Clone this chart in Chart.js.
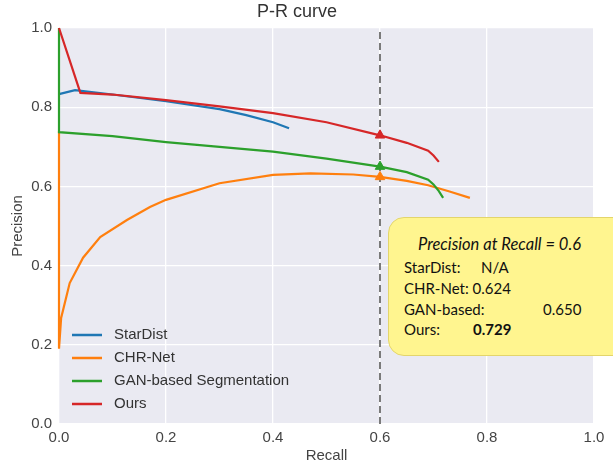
<!DOCTYPE html>
<html>
<head>
<meta charset="utf-8">
<script src="https://cdn.jsdelivr.net/npm/chart.js@4.4.0/dist/chart.umd.min.js"></script>
<style>
  html, body { margin: 0; padding: 0; background: #fff; overflow: hidden; }
  #wrap { position: relative; width: 613px; height: 465px; }
  #note {
    position: absolute; left: 388px; top: 217px; width: 250px; height: 139px;
    background: #fff58f; border: 1.5px solid #e3d56c; border-radius: 16px;
    box-sizing: border-box; font-family: Lato, "Noto Sans", sans-serif;
    font-size: 15px; color: #111;
  }
  #note span { position: absolute; white-space: nowrap; line-height: 18px; }
</style>
</head>
<body>
<div id="wrap">
  <canvas id="chart" width="613" height="465"></canvas>
  <div id="note">
    <span style="left:29px; top:17px; font-style:italic; font-size:16.5px;">Precision at Recall = 0.6</span>
    <span style="left:15px; top:40px;">StarDist:</span>
    <span style="left:92px; top:40px;">N/A</span>
    <span style="left:15px; top:61px;">CHR-Net: 0.624</span>
    <span style="left:15px; top:82px;">GAN-based:</span>
    <span style="left:154px; top:82px;">0.650</span>
    <span style="left:15px; top:102px;">Ours:</span>
    <span style="left:84px; top:102px; font-weight:bold;">0.729</span>
  </div>
</div>
<script>
const recallStarDist = [0, 0.03, 0.1, 0.2, 0.3, 0.35, 0.4, 0.43];
const precisionStarDist = [0.833, 0.843, 0.832, 0.815, 0.795, 0.78, 0.762, 0.747];

const recallChrNet = [0, 0, 0.004, 0.02, 0.045, 0.077, 0.127, 0.17, 0.2, 0.3, 0.4, 0.47, 0.55, 0.6, 0.65, 0.69, 0.73, 0.768];
const precisionChrNet = [0.74, 0.19, 0.268, 0.356, 0.42, 0.472, 0.515, 0.548, 0.566, 0.608, 0.629, 0.633, 0.63, 0.624, 0.614, 0.603, 0.587, 0.571];

const recallGan = [0, 0, 0.1, 0.2, 0.3, 0.4, 0.5, 0.6, 0.65, 0.69, 0.70, 0.71, 0.718];
const precisionGan = [1.0, 0.737, 0.727, 0.712, 0.700, 0.688, 0.670, 0.650, 0.636, 0.617, 0.605, 0.588, 0.571];

const recallOurs = [0, 0.04, 0.1, 0.2, 0.3, 0.4, 0.5, 0.6, 0.65, 0.69, 0.70, 0.71];
const precisionOurs = [1.0, 0.836, 0.832, 0.818, 0.802, 0.785, 0.762, 0.729, 0.71, 0.69, 0.678, 0.662];

const recallCutoff = 0.6;
const axisTicks = [0, 0.2, 0.4, 0.6, 0.8, 1.0];

const colors = {
  blue: "#1f77b4",
  orange: "#ff7f0e",
  green: "#2ca02c",
  red: "#d62728",
  cutoff: "#7a7a7a",
};

function toPoints(xs, ys) {
  return xs.map((x, i) => ({ x: x, y: ys[i] }));
}

function curve(label, xs, ys, color, order) {
  return {
    label: label,
    data: toPoints(xs, ys),
    borderColor: color,
    backgroundColor: color,
    borderWidth: 2.2,
    pointStyle: "triangle",
    pointRadius: (c) => (c.raw && c.raw.x === recallCutoff ? 5.5 : 0),
    pointBorderWidth: 1,
    tension: 0,
    clip: false,
    order: order,
    inLegend: true,
  };
}

// grey plot area like seaborn darkgrid
const plotBackground = {
  id: "plotBackground",
  beforeDraw(chart) {
    const { ctx, chartArea: a } = chart;
    ctx.save();
    ctx.fillStyle = "#eaeaf2";
    ctx.fillRect(a.left, a.top, a.right - a.left, a.bottom - a.top);
    ctx.restore();
  },
};

// legend drawn inside the plot, lower left
const innerLegend = {
  id: "innerLegend",
  afterDraw(chart) {
    const { ctx, chartArea: a } = chart;
    const items = chart.data.datasets.filter((d) => d.inLegend);
    ctx.save();
    ctx.font = "15px 'Liberation Sans', Arial, sans-serif";
    ctx.textBaseline = "middle";
    items.forEach((d, i) => {
      const y = 335 + i * 23;
      ctx.strokeStyle = d.borderColor;
      ctx.lineWidth = 2.5;
      ctx.beginPath();
      ctx.moveTo(a.left + 13, y);
      ctx.lineTo(a.left + 43, y);
      ctx.stroke();
      ctx.fillStyle = "#333";
      ctx.fillText(d.label, a.left + 55, y);
    });
    ctx.restore();
  },
};

const ctx = document.getElementById("chart").getContext("2d");
Chart.defaults.font.family = "'Liberation Sans', Arial, sans-serif";
Chart.defaults.color = "#444";

new Chart(ctx, {
  type: "line",
  data: {
    datasets: [
      curve("StarDist", recallStarDist, precisionStarDist, colors.blue, 4),
      curve("CHR-Net", recallChrNet, precisionChrNet, colors.orange, 3),
      curve("GAN-based Segmentation", recallGan, precisionGan, colors.green, 2),
      curve("Ours", recallOurs, precisionOurs, colors.red, 1),
      {
        label: "cutoff",
        data: [{ x: recallCutoff, y: 0 }, { x: recallCutoff, y: 1 }],
        borderColor: colors.cutoff,
        borderWidth: 2,
        borderDash: [7, 4],
        pointRadius: 0,
        order: 5,
      },
    ],
  },
  options: {
    responsive: false,
    animation: false,
    layout: { padding: { left: 0, right: 19, top: 0, bottom: 0 } },
    plugins: {
      legend: { display: false },
      tooltip: { enabled: false },
      title: {
        display: true,
        text: "P-R curve",
        color: "#333",
        font: { size: 18, weight: "normal" },
        padding: { top: 1, bottom: 5.4 },
      },
    },
    scales: {
      x: {
        type: "linear",
        min: 0,
        max: 1,
        afterBuildTicks: (s) => { s.ticks = axisTicks.map((v) => ({ value: v })); },
        afterFit: (s) => { s.height = 41; },
        grid: { color: "#fff", lineWidth: 1.3, drawTicks: false },
        border: { display: false },
        ticks: { padding: 5, font: { size: 15 }, callback: (v) => v.toFixed(1) },
        title: { display: true, text: "Recall", font: { size: 15 }, padding: 0 },
      },
      y: {
        type: "linear",
        min: 0,
        max: 1,
        afterBuildTicks: (s) => { s.ticks = axisTicks.map((v) => ({ value: v })); },
        afterFit: (s) => { s.width = 59; },
        grid: { color: "#fff", lineWidth: 1.3, drawTicks: false },
        border: { display: false },
        ticks: { padding: 7, font: { size: 15 }, callback: (v) => v.toFixed(1) },
        title: { display: true, text: "Precision", font: { size: 15 }, padding: { top: 9 } },
      },
    },
  },
  plugins: [plotBackground, innerLegend],
});
</script>
</body>
</html>
